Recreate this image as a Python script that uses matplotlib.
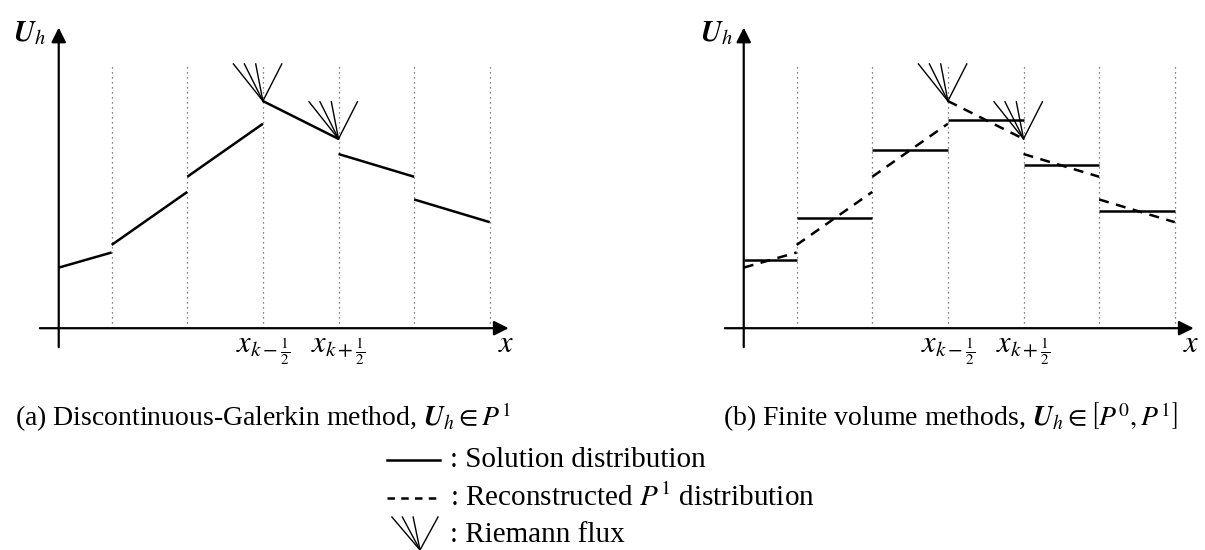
import matplotlib
matplotlib.use("Agg")
import matplotlib.pyplot as plt

plt.rcParams['font.family'] = ['Liberation Serif', 'DejaVu Serif']
plt.rcParams['mathtext.fontset'] = 'stix'

# cell interfaces (the y axis sits at x = 0)
interfaces = [0.7, 1.7, 2.7, 3.7, 4.7, 5.7]
cell_left = [0.0, 0.7, 1.7, 2.7, 3.7, 4.7]
cell_right = [0.7, 1.7, 2.7, 3.7, 4.7, 5.7]

# P1 solution: value at left and right end of each cell
p1_left = [0.8, 1.1, 2.0, 3.0, 2.3, 1.7]
p1_right = [1.0, 1.8, 2.7, 2.5, 2.0, 1.4]

# P0 cell averages
p0_values = [0.9, 1.45, 2.35, 2.75, 2.15, 1.55]

# Riemann fans: position and apex height, spread of the wave lines
fan_x = [2.7, 3.7]
fan_y = [3.0, 2.5]
fan_dx = [-0.39, -0.245, -0.095, 0.25]
fan_height = 0.49

tick_pos = [2.7, 3.7]
tick_labels = [r'$x_{k-\frac{1}{2}}$', r'$x_{k+\frac{1}{2}}$']

dotted_top = 3.48


def draw_frame(ax, ylabel_x):
    ax.set_xlim(-0.38, 6.10)
    ax.set_ylim(-0.42, 4.07)
    ax.axis('off')
    for xi in interfaces:
        ax.plot([xi, xi], [0, dotted_top], ls=(0, (1, 3)), lw=0.9, color='0.35')
    ax.annotate('', xy=(5.95, 0), xytext=(-0.25, 0),
                arrowprops=dict(arrowstyle='-|>', lw=1.6, color='k', mutation_scale=22, shrinkA=0, shrinkB=0))
    ax.annotate('', xy=(0, 3.97), xytext=(0, -0.25),
                arrowprops=dict(arrowstyle='-|>', lw=1.6, color='k', mutation_scale=22, shrinkA=0, shrinkB=0))
    ax.text(ylabel_x, 3.9, r'$\mathbfit{U}_h$', fontsize=21, ha='right', va='center')
    ax.text(5.92, -0.22, r'$x$', fontsize=22, ha='center', va='center')
    for xp, lab in zip(tick_pos, tick_labels):
        ax.text(xp, -0.1, lab, fontsize=22, ha='center', va='top')


def draw_fans(ax):
    for x0, y0 in zip(fan_x, fan_y):
        for dx in fan_dx:
            ax.plot([x0, x0 + dx], [y0, y0 + fan_height], lw=1.0, color='k')


fig = plt.figure(figsize=(12.05, 5.5), dpi=100)

# (a) discontinuous Galerkin
ax1 = fig.add_axes([30 / 1205, 190 / 550, 490 / 1205, 340 / 550])
draw_frame(ax1, -0.17)
for i in range(len(cell_left)):
    ax1.plot([cell_left[i], cell_right[i]], [p1_left[i], p1_right[i]], lw=1.8, color='k', solid_capstyle='butt')
draw_fans(ax1)

# (b) finite volume
ax2 = fig.add_axes([715 / 1205, 190 / 550, 490 / 1205, 340 / 550])
draw_frame(ax2, -0.14)
for i in range(len(cell_left)):
    ax2.plot([cell_left[i], cell_right[i]], [p0_values[i], p0_values[i]], lw=1.8, color='k', solid_capstyle='butt')
    ax2.plot([cell_left[i], cell_right[i]], [p1_left[i], p1_right[i]], lw=1.8, color='k', ls=(0, (4, 3)))
draw_fans(ax2)

# captions and legend, in pixel units of the figure
ov = fig.add_axes([0, 0, 1, 1])
ov.set_xlim(0, 1205)
ov.set_ylim(550, 0)
ov.axis('off')
ov.text(263, 417, r'(a) Discontinuous-Galerkin method, $\mathbfit{U}_h \in P^1$', fontsize=20, ha='center', va='center')
ov.text(950, 417, r'(b) Finite volume methods, $\mathbfit{U}_h \in \left[P^0, P^1\right]$', fontsize=20, ha='center', va='center')

ov.plot([387, 440], [460, 460], lw=1.8, color='k')
ov.text(450, 460, ': Solution distribution', fontsize=21, ha='left', va='center')
ov.plot([387, 440], [498, 498], lw=1.8, color='k', ls=(0, (3, 2.5)))
ov.text(450, 498, r': Reconstructed $P^1$ distribution', fontsize=21, ha='left', va='center')
for dx in fan_dx:
    ov.plot([420, 420 + dx * 72], [550, 517], lw=1.0, color='k')
ov.text(450, 535, ': Riemann flux', fontsize=21, ha='left', va='center')

fig.savefig('out.png', dpi=100)
